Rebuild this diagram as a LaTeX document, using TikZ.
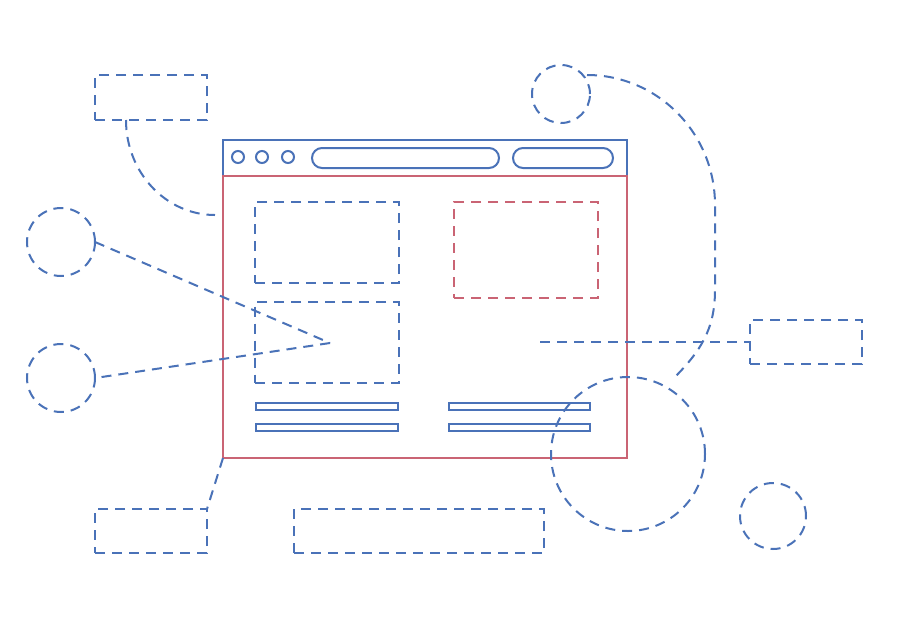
\documentclass[tikz,border=0pt]{standalone}
\definecolor{cblue}{RGB}{74,114,184}
\definecolor{cred}{RGB}{202,100,116}
\begin{document}
\begin{tikzpicture}[x=1pt,y=-1pt,
  ln/.style={line width=2pt},
  dsh/.style={ln,draw=cblue,dash pattern=on 10pt off 7pt},
  rdsh/.style={ln,draw=cred,dash pattern=on 10pt off 7pt},
  sbox/.style={rectangle,inner sep=0pt,outer sep=0pt},
  circ/.style={circle,inner sep=0pt,outer sep=0pt,minimum size=#1},
  solidb/.style={ln,draw=cblue},
  solidr/.style={ln,draw=cred}]
\fill[white] (0,0) rectangle (900,625);
\useasboundingbox (0,0) rectangle (900,625);
% browser window
\node[sbox,solidb,minimum width=404pt,minimum height=36pt] (header) at (425,158) {};
\node[sbox,solidr,minimum width=404pt,minimum height=282pt] (body) at (425,317) {};
\node[circ=12pt,solidb] (d1) at (238,157) {};
\node[circ=12pt,solidb] (d2) at (262,157) {};
\node[circ=12pt,solidb] (d3) at (288,157) {};
\node[sbox,solidb,rounded corners=10pt,minimum width=187pt,minimum height=20pt] (pill1) at (405.5,158) {};
\node[sbox,solidb,rounded corners=10pt,minimum width=100pt,minimum height=20pt] (pill2) at (563,158) {};
% content blocks
\node[sbox,dsh,minimum width=144pt,minimum height=81pt] (blk1) at (327,242.5) {};
\node[sbox,dsh,minimum width=144pt,minimum height=81pt] (blk2) at (327,342) {};
\node[sbox,rdsh,minimum width=144pt,minimum height=96pt] (blk3) at (526,250) {};
\node[sbox,solidb,minimum width=142pt,minimum height=7pt] (bar1) at (327,406.5) {};
\node[sbox,solidb,minimum width=142pt,minimum height=7pt] (bar2) at (327,427.5) {};
\node[sbox,solidb,minimum width=141pt,minimum height=7pt] (bar3) at (519.5,406.5) {};
\node[sbox,solidb,minimum width=141pt,minimum height=7pt] (bar4) at (519.5,427.5) {};
% outer boxes
\node[sbox,dsh,minimum width=112pt,minimum height=45pt] (tlbox) at (151,97.5) {};
\node[sbox,dsh,minimum width=112pt,minimum height=44pt] (rbox) at (806,342) {};
\node[sbox,dsh,minimum width=112pt,minimum height=44pt] (blbox) at (151,531) {};
\node[sbox,dsh,minimum width=250pt,minimum height=44pt] (bmbox) at (419,531) {};
% circles
\node[circ=68pt,dsh] (c1) at (61,242) {};
\node[circ=68pt,dsh] (c2) at (61,378) {};
\node[circ=58pt,dsh] (c3) at (561,94) {};
\node[circ=66pt,dsh] (c4) at (773,516) {};
\node[circ=154pt,dsh] (c5) at (628,454) {};
% connectors
\coordinate (a1) at (126,120);
\coordinate (a2) at (215,215);
\coordinate (m) at (330,343);
\coordinate (h1) at (540,342);
\coordinate (t1) at (587,75);
\coordinate (t2) at (715,205);
\coordinate (t3) at (715,290);
\coordinate (t4) at (672,380);
\draw[dsh] (a1) .. controls (126,172.4) and (165.9,215) .. (a2);
\draw[dsh] (c1.east) -- (m);
\draw[dsh] (m) -- (c2.east);
\draw[dsh] (h1) -- (rbox.west);
\draw[dsh] (t1) .. controls (657.7,75) and (715,133.2) .. (t2) -- (t3)
  .. controls (715,330) and (700,352) .. (t4);
\draw[dsh] (body.south west) -- (blbox.north east);
\end{tikzpicture}
\end{document}
